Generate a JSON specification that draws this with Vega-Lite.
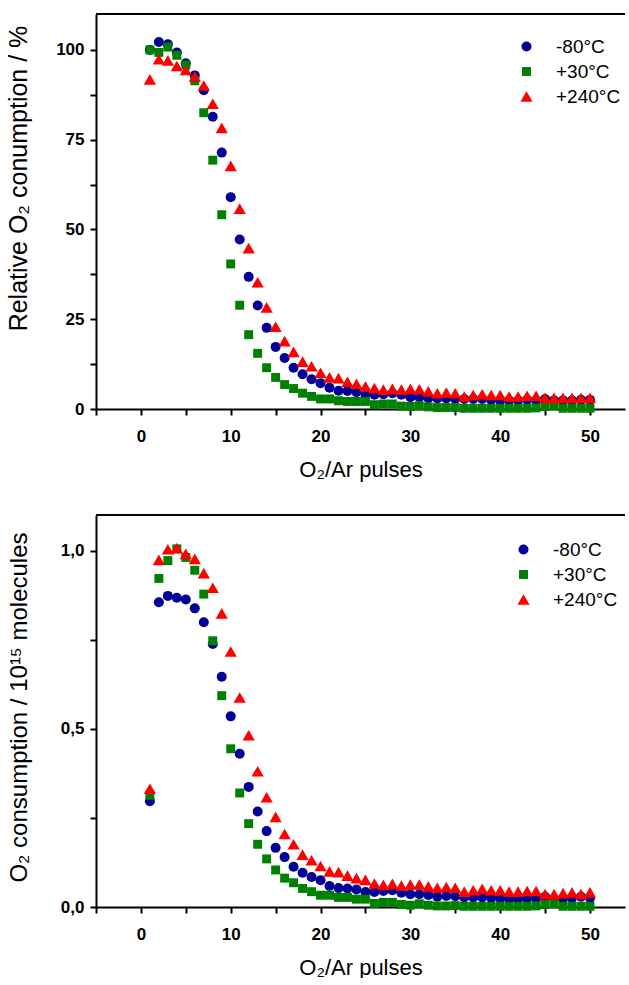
{
  "$schema": "https://vega.github.io/schema/vega-lite/v6.json",
  "background": "white",
  "padding": {"left": 6, "top": 13, "right": 0, "bottom": 0},
  "spacing": 34,
  "config": {
    "view": {"stroke": null},
    "axis": {
      "domainColor": "black", "domainWidth": 2, "tickColor": "black", "tickWidth": 2, "tickSize": 6,
      "labelFont": "Liberation Sans", "labelFontWeight": "bold", "labelFontSize": 17, "labelColor": "black",
      "titleFont": "Liberation Sans", "titleFontWeight": "normal", "titleFontSize": 22, "titleColor": "black",
      "grid": false, "labelFlush": false, "labelOverlap": false
    },
    "legend": {"labelFont": "Liberation Sans", "labelFontSize": 19, "labelColor": "black"}
  },
  "data": {"values": [
    {"n":1,"s":"-80°C","rel":100,"mol":0.297},{"n":2,"s":"-80°C","rel":102.2,"mol":0.855},{"n":3,"s":"-80°C","rel":101.6,"mol":0.873},{"n":4,"s":"-80°C","rel":99.3,"mol":0.868},{"n":5,"s":"-80°C","rel":96.3,"mol":0.863},
    {"n":6,"s":"-80°C","rel":92.9,"mol":0.838},{"n":7,"s":"-80°C","rel":88.8,"mol":0.799},{"n":8,"s":"-80°C","rel":81.4,"mol":0.738},{"n":9,"s":"-80°C","rel":71.4,"mol":0.646},{"n":10,"s":"-80°C","rel":59.0,"mol":0.535},
    {"n":11,"s":"-80°C","rel":47.2,"mol":0.430},{"n":12,"s":"-80°C","rel":36.8,"mol":0.337},{"n":13,"s":"-80°C","rel":28.8,"mol":0.268},{"n":14,"s":"-80°C","rel":22.6,"mol":0.213},{"n":15,"s":"-80°C","rel":17.3,"mol":0.166},
    {"n":16,"s":"-80°C","rel":14.2,"mol":0.140},{"n":17,"s":"-80°C","rel":11.5,"mol":0.113},{"n":18,"s":"-80°C","rel":9.7,"mol":0.096},{"n":19,"s":"-80°C","rel":8.3,"mol":0.084},{"n":20,"s":"-80°C","rel":7.2,"mol":0.075},
    {"n":21,"s":"-80°C","rel":5.9,"mol":0.059},{"n":22,"s":"-80°C","rel":5.1,"mol":0.053},{"n":23,"s":"-80°C","rel":5.0,"mol":0.052},{"n":24,"s":"-80°C","rel":4.7,"mol":0.049},{"n":25,"s":"-80°C","rel":4.0,"mol":0.042},
    {"n":26,"s":"-80°C","rel":4.0,"mol":0.042},{"n":27,"s":"-80°C","rel":4.1,"mol":0.045},{"n":28,"s":"-80°C","rel":4.4,"mol":0.047},{"n":29,"s":"-80°C","rel":4.0,"mol":0.040},{"n":30,"s":"-80°C","rel":3.3,"mol":0.036},
    {"n":31,"s":"-80°C","rel":3.3,"mol":0.036},{"n":32,"s":"-80°C","rel":3.0,"mol":0.034},{"n":33,"s":"-80°C","rel":2.9,"mol":0.029},{"n":34,"s":"-80°C","rel":2.9,"mol":0.031},{"n":35,"s":"-80°C","rel":2.8,"mol":0.030},
    {"n":36,"s":"-80°C","rel":2.8,"mol":0.027},{"n":37,"s":"-80°C","rel":2.8,"mol":0.027},{"n":38,"s":"-80°C","rel":2.8,"mol":0.027},{"n":39,"s":"-80°C","rel":2.5,"mol":0.025},{"n":40,"s":"-80°C","rel":2.4,"mol":0.024},
    {"n":41,"s":"-80°C","rel":2.4,"mol":0.022},{"n":42,"s":"-80°C","rel":2.4,"mol":0.022},{"n":43,"s":"-80°C","rel":2.6,"mol":0.024},{"n":44,"s":"-80°C","rel":2.4,"mol":0.023},{"n":45,"s":"-80°C","rel":2.8,"mol":0.029},
    {"n":46,"s":"-80°C","rel":2.4,"mol":0.023},{"n":47,"s":"-80°C","rel":2.4,"mol":0.023},{"n":48,"s":"-80°C","rel":2.4,"mol":0.025},{"n":49,"s":"-80°C","rel":2.6,"mol":0.029},{"n":50,"s":"-80°C","rel":2.6,"mol":0.025},
    {"n":1,"s":"+30°C","rel":100,"mol":0.314},{"n":2,"s":"+30°C","rel":99.3,"mol":0.922},{"n":3,"s":"+30°C","rel":100.8,"mol":0.972},{"n":4,"s":"+30°C","rel":98.5,"mol":1.005},{"n":5,"s":"+30°C","rel":95.8,"mol":0.981},
    {"n":6,"s":"+30°C","rel":91.4,"mol":0.945},{"n":7,"s":"+30°C","rel":82.5,"mol":0.878},{"n":8,"s":"+30°C","rel":69.3,"mol":0.747},{"n":9,"s":"+30°C","rel":54.1,"mol":0.593},{"n":10,"s":"+30°C","rel":40.4,"mol":0.444},
    {"n":11,"s":"+30°C","rel":28.9,"mol":0.320},{"n":12,"s":"+30°C","rel":20.7,"mol":0.234},{"n":13,"s":"+30°C","rel":15.5,"mol":0.176},{"n":14,"s":"+30°C","rel":11.5,"mol":0.135},{"n":15,"s":"+30°C","rel":8.8,"mol":0.104},
    {"n":16,"s":"+30°C","rel":6.8,"mol":0.081},{"n":17,"s":"+30°C","rel":5.7,"mol":0.068},{"n":18,"s":"+30°C","rel":4.4,"mol":0.052},{"n":19,"s":"+30°C","rel":3.5,"mol":0.043},{"n":20,"s":"+30°C","rel":2.8,"mol":0.033},
    {"n":21,"s":"+30°C","rel":2.8,"mol":0.033},{"n":22,"s":"+30°C","rel":2.3,"mol":0.027},{"n":23,"s":"+30°C","rel":2.1,"mol":0.027},{"n":24,"s":"+30°C","rel":2.1,"mol":0.022},{"n":25,"s":"+30°C","rel":2.1,"mol":0.022},
    {"n":26,"s":"+30°C","rel":1.2,"mol":0.010},{"n":27,"s":"+30°C","rel":1.4,"mol":0.013},{"n":28,"s":"+30°C","rel":1.4,"mol":0.013},{"n":29,"s":"+30°C","rel":0.8,"mol":0.007},{"n":30,"s":"+30°C","rel":0.7,"mol":0.005},
    {"n":31,"s":"+30°C","rel":0.9,"mol":0.009},{"n":32,"s":"+30°C","rel":0.6,"mol":0.005},{"n":33,"s":"+30°C","rel":0.4,"mol":0.003},{"n":34,"s":"+30°C","rel":0.4,"mol":0.003},{"n":35,"s":"+30°C","rel":0.4,"mol":0.004},
    {"n":36,"s":"+30°C","rel":0.2,"mol":0.002},{"n":37,"s":"+30°C","rel":0.2,"mol":0.002},{"n":38,"s":"+30°C","rel":0.2,"mol":0.002},{"n":39,"s":"+30°C","rel":0.2,"mol":0.002},{"n":40,"s":"+30°C","rel":0.2,"mol":0.002},
    {"n":41,"s":"+30°C","rel":0.2,"mol":0.002},{"n":42,"s":"+30°C","rel":0.2,"mol":0.002},{"n":43,"s":"+30°C","rel":0.2,"mol":0.002},{"n":44,"s":"+30°C","rel":0.3,"mol":0.003},{"n":45,"s":"+30°C","rel":0.7,"mol":0.007},
    {"n":46,"s":"+30°C","rel":1.0,"mol":0.009},{"n":47,"s":"+30°C","rel":0.2,"mol":0.002},{"n":48,"s":"+30°C","rel":0.2,"mol":0.002},{"n":49,"s":"+30°C","rel":0.2,"mol":0.002},{"n":50,"s":"+30°C","rel":0.2,"mol":0.002},
    {"n":1,"s":"+240°C","rel":91.8,"mol":0.332},{"n":2,"s":"+240°C","rel":97.4,"mol":0.974},{"n":3,"s":"+240°C","rel":97.1,"mol":1.004},{"n":4,"s":"+240°C","rel":95.5,"mol":1.007},{"n":5,"s":"+240°C","rel":94.4,"mol":0.991},
    {"n":6,"s":"+240°C","rel":92.6,"mol":0.977},{"n":7,"s":"+240°C","rel":90.1,"mol":0.937},{"n":8,"s":"+240°C","rel":85.0,"mol":0.896},{"n":9,"s":"+240°C","rel":78.3,"mol":0.824},{"n":10,"s":"+240°C","rel":67.7,"mol":0.717},
    {"n":11,"s":"+240°C","rel":55.8,"mol":0.588},{"n":12,"s":"+240°C","rel":44.8,"mol":0.482},{"n":13,"s":"+240°C","rel":35.3,"mol":0.381},{"n":14,"s":"+240°C","rel":28.3,"mol":0.308},{"n":15,"s":"+240°C","rel":22.9,"mol":0.253},
    {"n":16,"s":"+240°C","rel":18.9,"mol":0.205},{"n":17,"s":"+240°C","rel":15.9,"mol":0.176},{"n":18,"s":"+240°C","rel":13.2,"mol":0.147},{"n":19,"s":"+240°C","rel":11.9,"mol":0.131},{"n":20,"s":"+240°C","rel":10.1,"mol":0.115},
    {"n":21,"s":"+240°C","rel":8.8,"mol":0.100},{"n":22,"s":"+240°C","rel":8.6,"mol":0.098},{"n":23,"s":"+240°C","rel":7.6,"mol":0.088},{"n":24,"s":"+240°C","rel":7.0,"mol":0.081},{"n":25,"s":"+240°C","rel":6.3,"mol":0.076},
    {"n":26,"s":"+240°C","rel":5.8,"mol":0.066},{"n":27,"s":"+240°C","rel":5.4,"mol":0.062},{"n":28,"s":"+240°C","rel":5.6,"mol":0.065},{"n":29,"s":"+240°C","rel":5.4,"mol":0.060},{"n":30,"s":"+240°C","rel":5.6,"mol":0.063},
    {"n":31,"s":"+240°C","rel":5.5,"mol":0.063},{"n":32,"s":"+240°C","rel":4.9,"mol":0.058},{"n":33,"s":"+240°C","rel":4.4,"mol":0.054},{"n":34,"s":"+240°C","rel":4.6,"mol":0.056},{"n":35,"s":"+240°C","rel":4.4,"mol":0.054},
    {"n":36,"s":"+240°C","rel":3.5,"mol":0.043},{"n":37,"s":"+240°C","rel":3.9,"mol":0.047},{"n":38,"s":"+240°C","rel":4.1,"mol":0.051},{"n":39,"s":"+240°C","rel":3.9,"mol":0.047},{"n":40,"s":"+240°C","rel":3.9,"mol":0.047},
    {"n":41,"s":"+240°C","rel":3.5,"mol":0.043},{"n":42,"s":"+240°C","rel":3.5,"mol":0.043},{"n":43,"s":"+240°C","rel":3.7,"mol":0.045},{"n":44,"s":"+240°C","rel":3.7,"mol":0.045},{"n":45,"s":"+240°C","rel":3.1,"mol":0.036},
    {"n":46,"s":"+240°C","rel":3.1,"mol":0.036},{"n":47,"s":"+240°C","rel":3.1,"mol":0.039},{"n":48,"s":"+240°C","rel":3.1,"mol":0.041},{"n":49,"s":"+240°C","rel":3.1,"mol":0.036},{"n":50,"s":"+240°C","rel":3.1,"mol":0.041}
  ]},
  "resolve": {
    "scale": {"color": "independent", "shape": "independent", "size": "independent"},
    "legend": {"color": "independent", "shape": "independent", "size": "independent"}
  },
  "vconcat": [
    {
      "width": 529, "height": 395,
      "layer": [
        {"mark": {"type": "rule", "color": "black", "strokeWidth": 2}, "encoding": {"y": {"datum": 110, "type": "quantitative"}}},
        {
          "mark": {"type": "point", "filled": true, "opacity": 1, "strokeWidth": 0},
          "encoding": {
            "x": {"field": "n", "type": "quantitative", "scale": {"domain": [-5, 53.9], "nice": false, "zero": false},
              "axis": {"values": [-5,0,5,10,15,20,25,30,35,40,45,50], "labelExpr": "datum.value % 10 === 0 ? datum.label : ''", "labelPadding": 13, "titlePadding": 15, "title": "O₂/Ar pulses"}},
            "y": {"field": "rel", "type": "quantitative", "scale": {"domain": [0, 110], "nice": false},
              "axis": {"values": [0,12.5,25,37.5,50,62.5,75,87.5,100], "labelExpr": "datum.value % 25 === 0 ? datum.label : ''", "labelPadding": 6, "title": "Relative O₂ conumption / %", "titleFontSize": 25, "titleX": -65, "titleY": 164}},
            "color": {"field": "s", "type": "nominal", "scale": {"domain": ["-80°C", "+30°C", "+240°C"], "range": ["#000099", "#008000", "#ff0000"]},
              "legend": {"orient": "none", "legendX": 421, "legendY": 23, "title": null, "rowPadding": 5, "labelOffset": 20, "padding": 0}},
            "shape": {"field": "s", "type": "nominal", "scale": {"domain": ["-80°C", "+30°C", "+240°C"], "range": ["circle", "square", "triangle-up"]}},
            "size": {"field": "s", "type": "nominal", "scale": {"type": "ordinal", "domain": ["-80°C", "+30°C", "+240°C"], "range": [100, 80, 150]}}
          }
        }
      ]
    },
    {
      "width": 529, "height": 392,
      "layer": [
        {"mark": {"type": "rule", "color": "black", "strokeWidth": 2}, "encoding": {"y": {"datum": 1.1, "type": "quantitative"}}},
        {
          "mark": {"type": "point", "filled": true, "opacity": 1, "strokeWidth": 0},
          "encoding": {
            "x": {"field": "n", "type": "quantitative", "scale": {"domain": [-5, 53.9], "nice": false, "zero": false},
              "axis": {"values": [-5,0,5,10,15,20,25,30,35,40,45,50], "labelExpr": "datum.value % 10 === 0 ? datum.label : ''", "labelPadding": 13, "titlePadding": 15, "title": "O₂/Ar pulses"}},
            "y": {"field": "mol", "type": "quantitative", "scale": {"domain": [0, 1.1], "nice": false},
              "axis": {"values": [0,0.25,0.5,0.75,1.0], "labelExpr": "(datum.value * 4) % 2 === 0 ? replace(format(datum.value, '.1f'), '.', ',') : ''", "labelPadding": 6, "title": "O₂ consumption / 10¹⁵ molecules", "titleFontSize": 24, "titleX": -65, "titleY": 192}},
            "color": {"field": "s", "type": "nominal", "scale": {"domain": ["-80°C", "+30°C", "+240°C"], "range": ["#000099", "#008000", "#ff0000"]},
              "legend": {"orient": "none", "legendX": 418, "legendY": 25, "title": null, "rowPadding": 5, "labelOffset": 20, "padding": 0}},
            "shape": {"field": "s", "type": "nominal", "scale": {"domain": ["-80°C", "+30°C", "+240°C"], "range": ["circle", "square", "triangle-up"]}},
            "size": {"field": "s", "type": "nominal", "scale": {"type": "ordinal", "domain": ["-80°C", "+30°C", "+240°C"], "range": [100, 80, 150]}}
          }
        }
      ]
    }
  ]
}
